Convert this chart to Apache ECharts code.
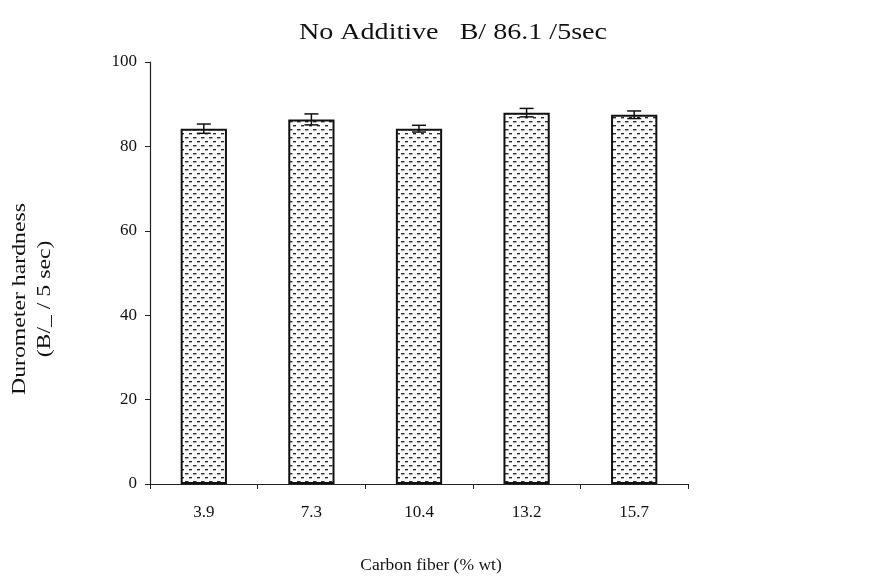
<!DOCTYPE html>
<html>
<head>
<meta charset="utf-8">
<script src="https://cdn.jsdelivr.net/npm/echarts@6/dist/echarts.min.js"></script>
<style>
  html, body { margin: 0; padding: 0; background: #fff; }
  #chart { width: 877px; height: 579px; }
</style>
</head>
<body>
<div id="chart"></div>
<script>
// Carbon fiber loading (% wt) and measured Durometer hardness
var categories = ['3.9', '7.3', '10.4', '13.2', '15.7'];
var hardness = [84.2, 86.4, 84.2, 88.0, 87.5];
var hardnessErr = [1.1, 1.3, 0.8, 1.0, 0.9];
var yTicks = [0, 20, 40, 60, 80, 100];

// dotted-dash fill used for the bars
function dashPattern() {
  var c = document.createElement('canvas');
  c.width = 8; c.height = 8;
  var ctx = c.getContext('2d');
  ctx.fillStyle = '#ffffff';
  ctx.fillRect(0, 0, 8, 8);
  ctx.fillStyle = '#2a2a2a';
  ctx.fillRect(1, 1, 3.5, 1.4);
  ctx.fillRect(5, 5, 3.5, 1.4);
  return c;
}

var font = '"Liberation Serif", "Times New Roman", serif';
var chart = echarts.init(document.getElementById('chart'), null, { renderer: 'canvas' });

var errData = categories.map(function (c, i) {
  return [i, hardness[i] - hardnessErr[i], hardness[i] + hardnessErr[i]];
});

chart.setOption({
  animation: false,
  backgroundColor: '#ffffff',
  graphic: [
    {
      type: 'text', x: 453, y: 33, scaleX: 1.17, z: 20,
      style: {
        text: 'No Additive   B/ 86.1 /5sec', fontFamily: font, fontSize: 24,
        fill: '#111', align: 'center', verticalAlign: 'middle'
      }
    },
    {
      type: 'text', x: 20, y: 299, rotation: Math.PI / 2, scaleX: 1.25, z: 20,
      style: {
        text: 'Durometer hardness', fontFamily: font, fontSize: 19,
        fill: '#111', align: 'center', verticalAlign: 'middle'
      }
    },
    {
      type: 'text', x: 45, y: 299, rotation: Math.PI / 2, scaleX: 1.25, z: 20,
      style: {
        text: '(B/_ / 5 sec)', fontFamily: font, fontSize: 19,
        fill: '#111', align: 'center', verticalAlign: 'middle'
      }
    }
  ],
  grid: { left: 150, right: 189, top: 62, bottom: 75, containLabel: false },
  xAxis: {
    type: 'category',
    data: categories,
    name: 'Carbon fiber (% wt)',
    nameLocation: 'middle',
    nameGap: 72,
    nameTextStyle: { fontFamily: font, fontSize: 17.5, color: '#111', padding: [0, 0, 0, 24] },
    axisLine: { lineStyle: { color: '#222', width: 1.2 } },
    axisTick: { show: true, length: 5, lineStyle: { color: '#222' } },
    axisLabel: { fontFamily: font, fontSize: 17, color: '#111', margin: 20 },
    splitLine: { show: false }
  },
  yAxis: {
    type: 'value',
    min: yTicks[0], max: yTicks[yTicks.length - 1], interval: 20,
    axisLine: { show: true, lineStyle: { color: '#222', width: 1.2 } },
    axisTick: { show: true, length: 5, lineStyle: { color: '#222' } },
    axisLabel: { fontFamily: font, fontSize: 17, color: '#111', margin: 13 },
    splitLine: { show: false }
  },
  series: [
    {
      type: 'bar',
      data: hardness,
      barWidth: '43%',
      itemStyle: {
        color: { image: dashPattern(), repeat: 'repeat' },
        borderColor: '#111',
        borderWidth: 2
      }
    },
    {
      type: 'custom',
      data: errData,
      z: 10,
      renderItem: function (params, api) {
        var x = api.value(0);
        var lo = api.coord([x, api.value(1)]);
        var hi = api.coord([x, api.value(2)]);
        var half = 7;
        var style = { stroke: '#111', lineWidth: 1.5 };
        return {
          type: 'group',
          children: [
            { type: 'line', shape: { x1: lo[0], y1: lo[1], x2: hi[0], y2: hi[1] }, style: style },
            { type: 'line', shape: { x1: lo[0] - half, y1: lo[1], x2: lo[0] + half, y2: lo[1] }, style: style },
            { type: 'line', shape: { x1: hi[0] - half, y1: hi[1], x2: hi[0] + half, y2: hi[1] }, style: style }
          ]
        };
      }
    }
  ]
});
</script>
</body>
</html>
